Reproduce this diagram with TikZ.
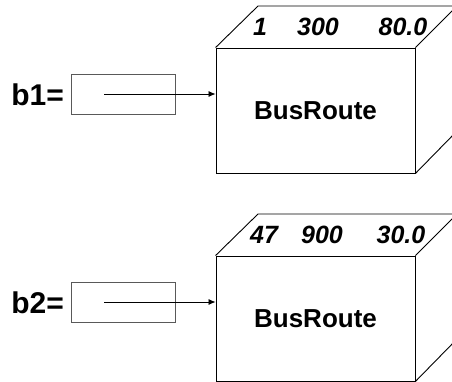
\documentclass[tikz,border=0pt]{standalone}
\usepackage{fontspec}
\setmainfont{Liberation Sans}
\usetikzlibrary{arrows.meta}
\begin{document}
\begin{tikzpicture}[x=1pt,y=-1pt,
  face/.style={draw=black,line width=0.9pt,minimum width=199pt,minimum height=125pt,inner sep=0pt,
     font=\fontsize{26}{30}\selectfont\bfseries},
  refbox/.style={draw=black!65,line width=0.9pt,minimum width=104pt,minimum height=40pt,inner sep=0pt},
  varlab/.style={font=\fontsize{30}{34}\selectfont\bfseries,anchor=east,inner sep=0pt},
  fieldlab/.style={font=\fontsize{25}{28}\selectfont\bfseries\itshape,inner sep=0pt},
  edge/.style={line width=0.9pt},
  ptr/.style={line width=0.8pt,-{Latex[length=7pt,width=6pt]}}]
\useasboundingbox (0,0) rectangle (452,382);
% object 1
\node[face] (c1) at (315.5,110.5) {BusRoute};
\coordinate (t1a) at (258,6);
\coordinate (t1b) at (457,6);
\coordinate (t1c) at (457,131);
\draw[edge] (c1.north west) -- (t1a) -- (t1b) -- (c1.north east);
\draw[edge] (t1b) -- (t1c) -- (c1.south east);
\node[fieldlab] (f11) at (260,27) {1};
\node[fieldlab] (f12) at (318,27) {300};
\node[fieldlab] (f13) at (403,27) {80.0};
\node[refbox] (b1box) at (123,94) {};
\node[varlab] (b1lab) at (64,95) {b1=};
\coordinate (s1) at (104,94);
\draw[ptr] (s1) -- (c1.west |- s1);
% object 2
\node[face] (c2) at (315.5,318.5) {BusRoute};
\coordinate (t2a) at (258,214);
\coordinate (t2b) at (457,214);
\coordinate (t2c) at (457,339);
\draw[edge] (c2.north west) -- (t2a) -- (t2b) -- (c2.north east);
\draw[edge] (t2b) -- (t2c) -- (c2.south east);
\node[fieldlab] (f21) at (264,235) {47};
\node[fieldlab] (f22) at (322,235) {900};
\node[fieldlab] (f23) at (401,235) {30.0};
\node[refbox] (b2box) at (123,302) {};
\node[varlab] (b2lab) at (64,303) {b2=};
\coordinate (s2) at (104,302);
\draw[ptr] (s2) -- (c2.west |- s2);
\end{tikzpicture}
\end{document}
